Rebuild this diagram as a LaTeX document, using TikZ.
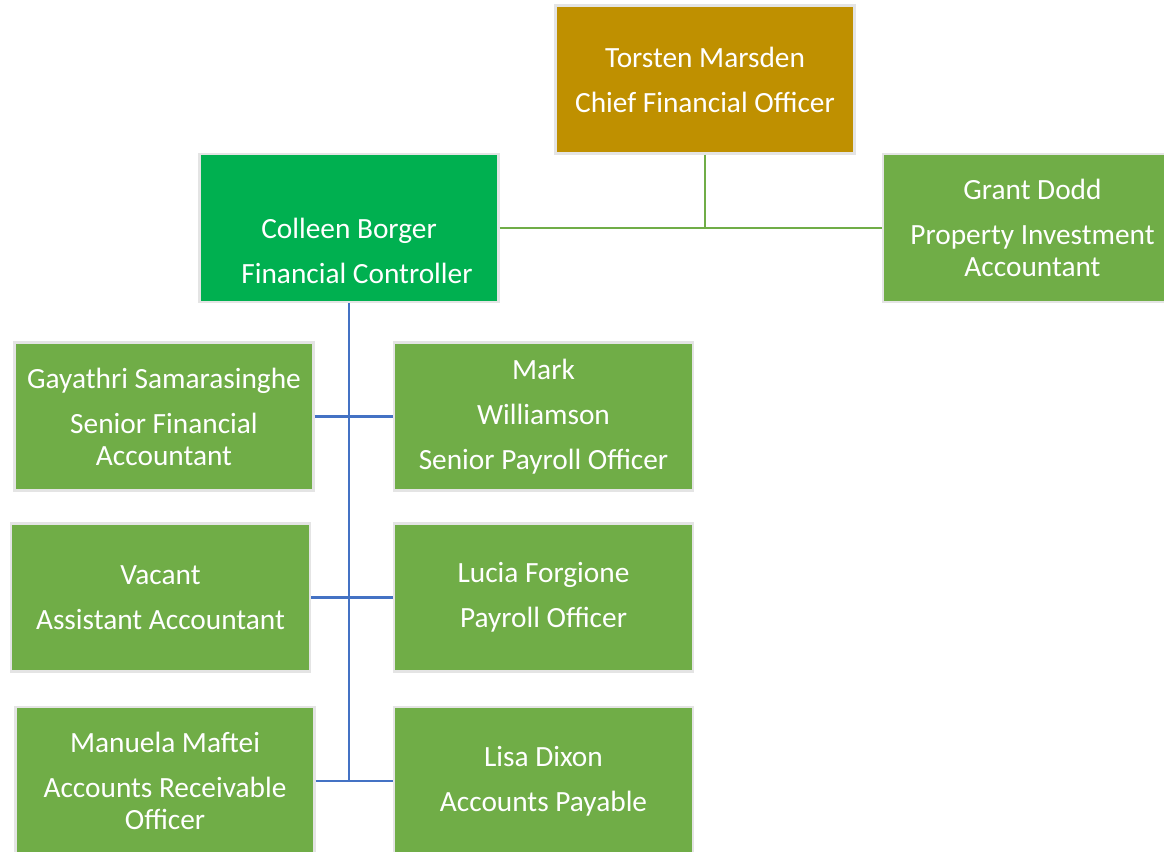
\documentclass[tikz,border=0pt]{standalone}
\usepackage{fontspec}
\setmainfont{Carlito}
\usetikzlibrary{positioning}
\definecolor{cfoc}{HTML}{BF9000}
\definecolor{fcc}{HTML}{00B050}
\definecolor{staffc}{HTML}{70AD47}
\definecolor{linkc}{HTML}{4472C4}
\definecolor{edgec}{HTML}{E4E4E4}
\tikzset{
  box/.style ={draw=edgec,line width=1.8pt,fill=staffc,text=white,align=center,
               minimum width=224pt,minimum height=111pt,inner sep=0pt,
               font=\fontsize{22}{24}\selectfont},
  cfob/.style={box,fill=cfoc},
  fcb/.style ={box,fill=fcc},
  lnG/.style ={draw=staffc,line width=2.2pt},
  lnB/.style ={draw=linkc,line width=2.2pt},
}

\begin{document}
\begin{tikzpicture}[x=0.75pt,y=-0.75pt]
\useasboundingbox (0,0) rectangle (1164,852);
\clip (0,0) rectangle (1164,852);

% ---- top row -------------------------------------------------------------
\node[cfob] (cfo) at (705,79.5) {Torsten Marsden\\[9.75pt]Chief Financial Officer};
\node[fcb] (fc) at (349,228) {\rule{0pt}{16pt}\\[9.75pt]Colleen Borger\\[9.75pt]\hspace*{12pt}Financial Controller};
\node[box] (grant) at (1032.5,228) {Grant Dodd\\[9.75pt]Property Investment\\Accountant};

\draw[lnG] (cfo.south) -- (cfo.south |- fc.east);
\draw[lnG] (fc.east) -- (grant.west);

% ---- staff under the controller -----------------------------------------
\node[box] (gaya) at (164,416.5) {Gayathri Samarasinghe\\[9.75pt]Senior Financial\\Accountant};
\node[box] (mark) at (543.5,416.5) {Mark\\[9.75pt]Williamson\\[9.75pt]Senior Payroll Officer};
\node[box] (vac) at (160.5,597.5) {Vacant\\[9.75pt]Assistant Accountant};
\node[box] (lucia) at (543.5,597.5) {Lucia Forgione\\[9.75pt]Payroll Officer};
\node[box] (manu) at (165,781) {Manuela Maftei\\[9.75pt]Accounts Receivable\\Officer};
\node[box] (lisa) at (543.5,781) {Lisa Dixon\\[9.75pt]Accounts Payable};

\draw[lnB] (fc.south) -- (fc.south |- manu.east);
\draw[lnB] (gaya.east) -- (mark.west);
\draw[lnB] (vac.east) -- (lucia.west);
\draw[lnB] (manu.east) -- (lisa.west);
\end{tikzpicture}
\end{document}
